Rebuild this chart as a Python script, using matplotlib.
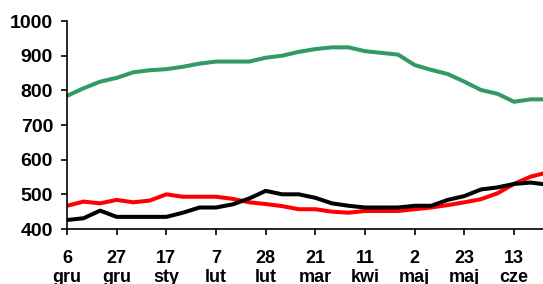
import matplotlib
matplotlib.use("Agg")
from matplotlib import pyplot as plt

# weekly values, first point = 6 gru
green = [784, 806, 825, 836, 852, 858, 861, 868, 877, 883,
         883, 883, 894, 900, 911, 919, 924, 924, 913, 908,
         903, 873, 859, 847, 825, 801, 790, 767, 774, 774]
red = [467, 479, 474, 484, 477, 482, 500, 493, 493, 493,
       487, 477, 472, 466, 457, 457, 450, 447, 452, 452,
       452, 457, 462, 469, 477, 486, 503, 530, 551, 563]
black = [426, 431, 453, 435, 435, 435, 435, 447, 462, 462,
         471, 488, 510, 500, 500, 490, 474, 467, 462, 462,
         462, 467, 467, 484, 495, 514, 520, 530, 534, 528]

tick_pos = [0, 3, 6, 9, 12, 15, 18, 21, 24, 27]
tick_labels = ['6\ngru', '27\ngru', '17\nsty', '7\nlut', '28\nlut',
               '21\nmar', '11\nkwi', '2\nmaj', '23\nmaj', '13\ncze']

plt.rcParams['font.family'] = ['Liberation Sans', 'DejaVu Sans']

fig = plt.figure(figsize=(5.43, 2.84), dpi=100)
ax = fig.add_axes([67 / 543, 1 - 229 / 284, 1 - 67 / 543, (229 - 21) / 284])

weeks = list(range(len(green)))
ax.plot(weeks, green, color='#339966', lw=2.9, solid_joinstyle='round')
ax.plot(weeks, red, color='#ff0000', lw=2.9, solid_joinstyle='round')
ax.plot(weeks, black, color='#000000', lw=2.9, solid_joinstyle='round')

ax.set_xlim(0, 28.75)
ax.set_ylim(400, 1000)
ax.set_yticks(range(400, 1001, 100))
ax.set_xticks(tick_pos)
ax.set_xticklabels(tick_labels, fontsize=13, fontweight='bold', linespacing=1.2)
for lbl in ax.get_yticklabels():
    lbl.set_fontsize(14)
    lbl.set_fontweight('bold')

ax.spines['top'].set_visible(False)
ax.spines['right'].set_visible(False)
ax.spines['left'].set_linewidth(1.2)
ax.spines['bottom'].set_linewidth(1.2)
ax.tick_params(axis='both', direction='out', length=4, width=1.2, colors='black')
ax.tick_params(axis='x', pad=11)
ax.tick_params(axis='y', pad=6)

fig.savefig('out.png', dpi=100)
